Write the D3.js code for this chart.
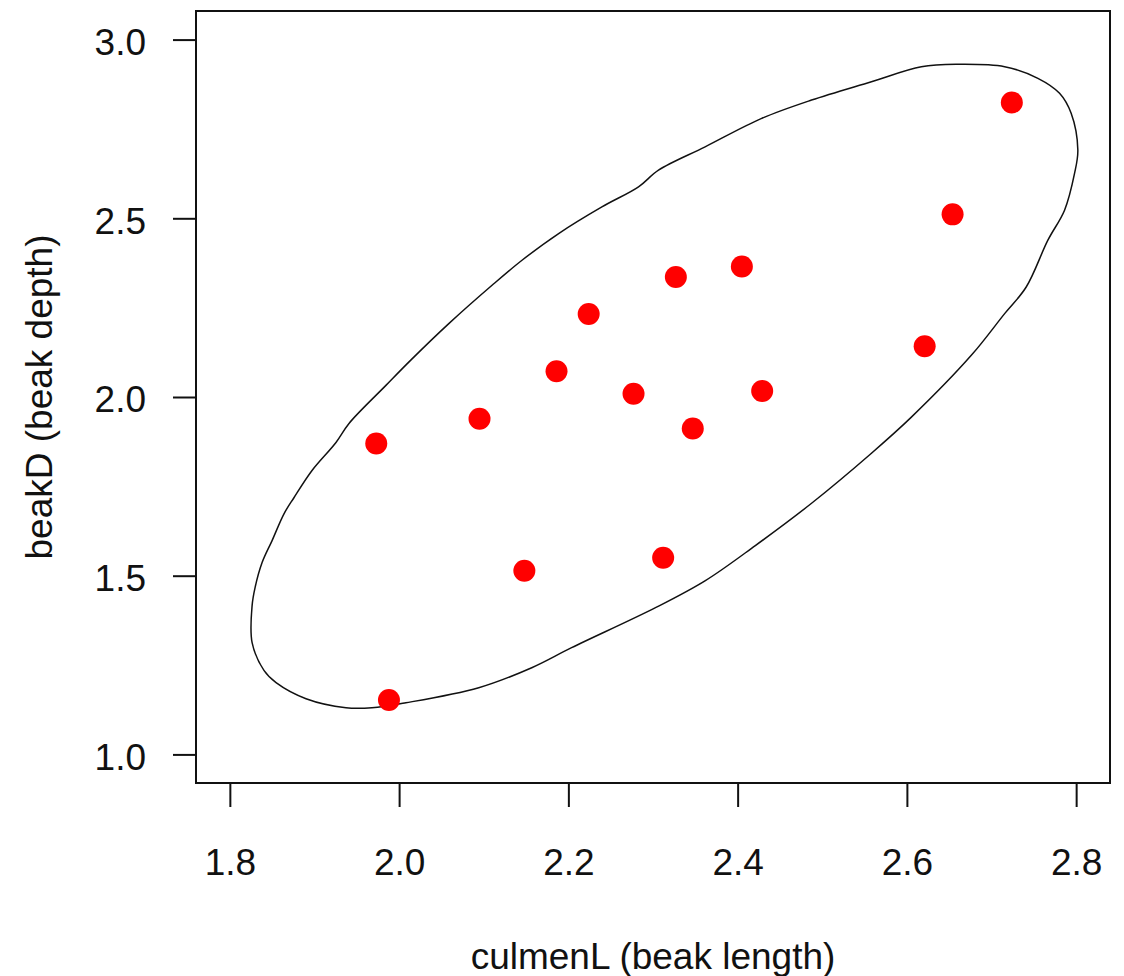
<!DOCTYPE html>
<html>
<head>
<meta charset="utf-8">
<script src="https://cdn.jsdelivr.net/npm/d3@7"></script>
<style>
  body { margin: 0; background: #fff; }
  text { font-family: "Liberation Sans", Arial, sans-serif; fill: #111; }
</style>
</head>
<body>
<div id="vis"></div>
<script>
const culmenL = [2.724, 2.654, 2.621, 2.405, 2.327, 2.224, 2.186, 2.277, 2.429, 2.347, 2.095, 1.973, 2.148, 2.312, 1.988]
const beakD   = [2.824, 2.511, 2.142, 2.365, 2.336, 2.232, 2.072, 2.009, 2.017, 1.912, 1.939, 1.870, 1.514, 1.550, 1.152]

// outline of the fitted ellipse, traced clockwise
const ellipseX = [2.3065, 2.3616, 2.4284, 2.4873, 2.5581, 2.6171, 2.6604, 2.7155, 2.7548, 2.7804,
                  2.7941, 2.8020, 2.7981, 2.7863, 2.7666, 2.7410, 2.7155, 2.6761, 2.6050, 2.5578,
                  2.4870, 2.4209, 2.3619, 2.3030, 2.2038, 2.1567, 2.0941, 2.0080, 1.9679, 1.9372,
                  1.8900, 1.8546, 1.8405, 1.8263, 1.8263, 1.8298, 1.8381, 1.8499, 1.8641, 1.8759,
                  1.8971, 1.9254, 1.9408, 1.9844, 2.0135, 2.0587, 2.1098, 2.1452, 2.1885, 2.2396, 2.2829]
const ellipseY = [2.6347, 2.7000, 2.7796, 2.8308, 2.8821, 2.9241, 2.9308, 2.9241, 2.8916, 2.8496,
                  2.7936, 2.6908, 2.6255, 2.5227, 2.4387, 2.3078, 2.2333, 2.1165, 1.9429, 1.8420,
                  1.7020, 1.5843, 1.4863, 1.4106, 1.2986, 1.2426, 1.1866, 1.1445, 1.1305, 1.1305,
                  1.1557, 1.2006, 1.2342, 1.3126, 1.4162, 1.4667, 1.5367, 1.5983, 1.6739, 1.7188,
                  1.7944, 1.8728, 1.9261, 2.0325, 2.1025, 2.2053, 2.3126, 2.3826, 2.4574, 2.5319, 2.5880]

const xTicks = [1.8, 2.0, 2.2, 2.4, 2.6, 2.8]
const yTicks = [1.0, 1.5, 2.0, 2.5, 3.0]

const width = 1124
const height = 976
const box = {left: 196, right: 1110, top: 11, bottom: 783}

const svg = d3.select('#vis')
    .append('svg')
    .attr('width', width)
    .attr('height', height)

// R style: limits 1.8-2.8 and 1-3, padded by 4%
const xScale = d3.scaleLinear().domain([1.76, 2.84]).range([box.left, box.right])
const yScale = d3.scaleLinear().domain([0.92, 3.08]).range([box.bottom, box.top])

// x axis
const xAxis = svg.append('g')
    .attr('transform', `translate(0,${box.bottom})`)
    .call(d3.axisBottom(xScale).tickValues(xTicks).tickSize(24).tickFormat(d3.format('.1f')))
xAxis.select('.domain').remove()
xAxis.selectAll('line').attr('stroke', '#111').attr('stroke-width', 2)
xAxis.selectAll('text')
    .attr('y', 92)
    .attr('dy', 0)
    .style('font-size', '37px')
    .attr('font-family', null)

// y axis
const yAxis = svg.append('g')
    .attr('transform', `translate(${box.left},0)`)
    .call(d3.axisLeft(yScale).tickValues(yTicks).tickSize(23).tickFormat(d3.format('.1f')))
yAxis.select('.domain').remove()
yAxis.selectAll('line').attr('stroke', '#111').attr('stroke-width', 2)
yAxis.selectAll('text')
    .attr('x', -50)
    .attr('dy', '0.4em')
    .style('font-size', '37px')
    .attr('font-family', null)

// ellipse
const points = ellipseX.map((x, i) => [x, ellipseY[i]])
const lineGen = d3.line()
    .x(d => xScale(d[0]))
    .y(d => yScale(d[1]))
    .curve(d3.curveCatmullRomClosed.alpha(0.5))

svg.append('path')
    .attr('d', lineGen(points))
    .attr('fill', 'none')
    .attr('stroke', '#111')
    .attr('stroke-width', 1.5)

// points
svg.selectAll('.dot')
    .data(culmenL.map((x, i) => ({x: x, y: beakD[i]})))
    .join('circle')
    .attr('class', 'dot')
    .attr('cx', d => xScale(d.x))
    .attr('cy', d => yScale(d.y))
    .attr('r', 11)
    .attr('fill', '#ff0000')

// plot frame
svg.append('rect')
    .attr('x', box.left)
    .attr('y', box.top)
    .attr('width', box.right - box.left)
    .attr('height', box.bottom - box.top)
    .attr('fill', 'none')
    .attr('stroke', '#111')
    .attr('stroke-width', 2)

// labels
svg.append('text')
    .attr('x', (box.left + box.right) / 2)
    .attr('y', 969)
    .attr('text-anchor', 'middle')
    .style('font-size', '37px')
    .text('culmenL (beak length)')

svg.append('text')
    .attr('transform', `translate(52,${(box.top + box.bottom) / 2}) rotate(-90)`)
    .attr('text-anchor', 'middle')
    .style('font-size', '37px')
    .text('beakD (beak depth)')
</script>
</body>
</html>
